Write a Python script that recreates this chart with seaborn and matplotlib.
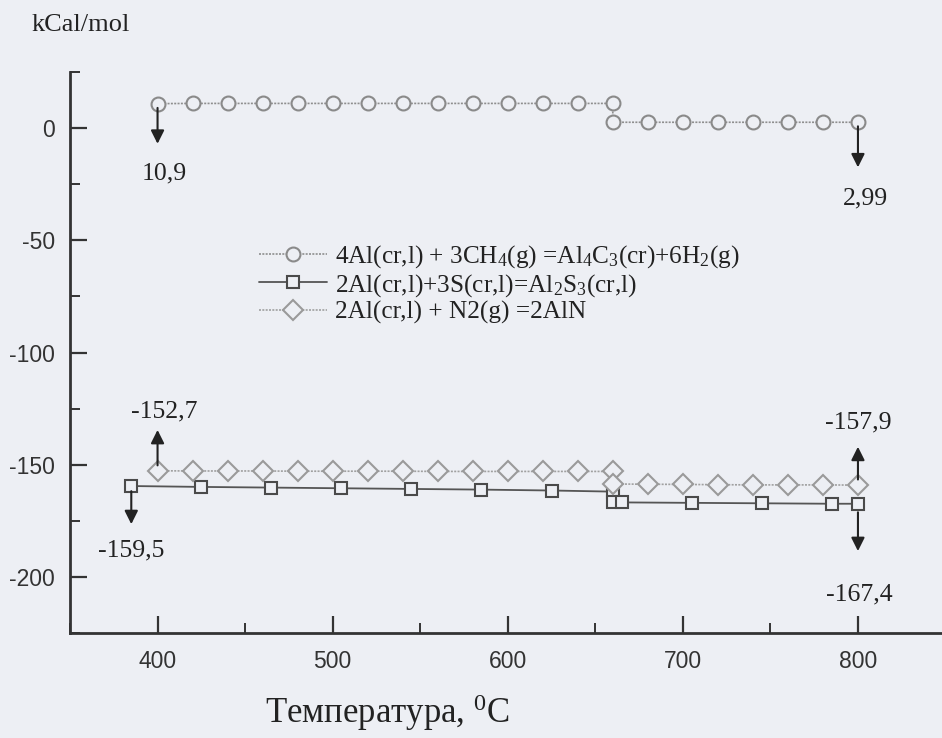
import matplotlib
matplotlib.use("Agg")
import matplotlib.pyplot as plt
import seaborn as sns
import pandas as pd
from matplotlib.ticker import MultipleLocator

# ---------------- data ----------------
temp_al4c3 = [400, 420, 440, 460, 480, 500, 520, 540, 560, 580, 600, 620, 640, 660,
              660, 680, 700, 720, 740, 760, 780, 800]
dg_al4c3 = [10.9, 11.0, 11.0, 11.0, 11.0, 11.0, 11.0, 11.0, 11.0, 11.0, 11.0, 11.0, 11.0, 11.0,
            2.6, 2.6, 2.6, 2.6, 2.6, 2.6, 2.6, 2.6]

temp_al2s3 = [385, 425, 465, 505, 545, 585, 625, 660, 660, 665, 705, 745, 785, 800]
dg_al2s3 = [-159.5, -159.9, -160.2, -160.5, -160.8, -161.1, -161.5, -162.0,
            -166.8, -166.8, -167.0, -167.2, -167.4, -167.4]

temp_aln = [400, 420, 440, 460, 480, 500, 520, 540, 560, 580, 600, 620, 640, 660,
            660, 680, 700, 720, 740, 760, 780, 800]
dg_aln = [-152.7, -152.8, -152.8, -152.8, -152.9, -152.9, -152.9, -152.9, -153.0, -153.0,
          -153.0, -153.0, -153.0, -153.0,
          -158.6, -158.7, -158.8, -158.9, -159.0, -159.0, -159.0, -159.1]

labels = ["4Al(cr,l) + 3CH$_4$(g) =Al$_4$C$_3$(cr)+6H$_2$(g)",
          "2Al(cr,l)+3S(cr,l)=Al$_2$S$_3$(cr,l)",
          "2Al(cr,l) + N2(g) =2AlN"]

# annotations: (text, x, y_from, y_to, text_x, text_y)
ann_text = ["10,9", "2,99", "-152,7", "-159,5", "-157,9", "-167,4"]
ann_x = [400, 800, 400, 385, 800, 800]
ann_from = [9.0, 0.8, -150.3, -161.8, -156.6, -171.2]
ann_to = [-7.0, -17.5, -134.5, -176.5, -142.0, -188.5]
ann_tx = [404, 804, 404, 385, 800, 801]
ann_ty = [-20.0, -31.5, -126.3, -188.0, -131.3, -208.0]

xticks = [400, 500, 600, 700, 800]
yticks = [0, -50, -100, -150, -200]

# ---------------- style ----------------
bg = "#edeff4"
sns.set_style("ticks")
plt.rcParams["font.family"] = ["Liberation Serif", "DejaVu Serif"]
plt.rcParams["mathtext.fontset"] = "custom"
plt.rcParams["mathtext.rm"] = "Liberation Serif"
plt.rcParams["mathtext.it"] = "Liberation Serif:italic"
plt.rcParams["mathtext.default"] = "rm"
plt.rcParams["axes.unicode_minus"] = False

fig = plt.figure(figsize=(9.42, 7.38), dpi=100, facecolor=bg)
ax = fig.add_axes([70 / 942, 105 / 738, 872 / 942, 561 / 738])
ax.set_facecolor(bg)

df1 = pd.DataFrame({"T": temp_al4c3, "G": dg_al4c3})
df2 = pd.DataFrame({"T": temp_al2s3, "G": dg_al2s3})
df3 = pd.DataFrame({"T": temp_aln, "G": dg_aln})

sns.lineplot(data=df1, x="T", y="G", ax=ax, sort=False, estimator=None,
             color="#8e8e8e", lw=1.2, linestyle=(0, (1.2, 0.8)),
             marker="o", markersize=10, markerfacecolor=bg,
             markeredgecolor="#8a8a8a", markeredgewidth=1.5, label=labels[0])
sns.lineplot(data=df2, x="T", y="G", ax=ax, sort=False, estimator=None,
             color="#555555", lw=1.3, linestyle="-",
             marker="s", markersize=9, markerfacecolor=bg,
             markeredgecolor="#4a4a4a", markeredgewidth=1.5, label=labels[1])
sns.lineplot(data=df3, x="T", y="G", ax=ax, sort=False, estimator=None,
             color="#a0a0a0", lw=1.2, linestyle=(0, (1.2, 0.8)),
             marker="D", markersize=10, markerfacecolor=bg,
             markeredgecolor="#9a9a9a", markeredgewidth=1.5, label=labels[2])

for t, x, y0, y1, tx, ty in zip(ann_text, ann_x, ann_from, ann_to, ann_tx, ann_ty):
    ax.annotate("", xy=(x, y1), xytext=(x, y0),
                arrowprops=dict(arrowstyle="-|>", color="#222222", lw=1.5,
                                mutation_scale=20, shrinkA=0, shrinkB=0))
    ax.text(tx, ty, t, ha="center", va="center", fontsize=18.5, color="#222222")

ax.set_xlim(350, 848)
ax.set_ylim(-225, 25)
ax.set_xticks(xticks)
ax.set_yticks(yticks)
ax.xaxis.set_minor_locator(MultipleLocator(50))
ax.yaxis.set_minor_locator(MultipleLocator(25))
ax.set_xlabel("")
ax.set_ylabel("")

for s in ["top", "right"]:
    ax.spines[s].set_visible(False)
for s in ["left", "bottom"]:
    ax.spines[s].set_linewidth(2.0)
    ax.spines[s].set_color("#333333")

ax.tick_params(axis="both", which="major", direction="in", length=12, width=1.6,
               color="#333333", labelsize=16.5, labelcolor="#333333")
ax.tick_params(axis="both", which="minor", direction="in", length=7, width=1.4,
               color="#333333")
ax.tick_params(axis="x", which="major", pad=12)
ax.tick_params(axis="y", which="major", pad=11)
for lab in ax.get_xticklabels() + ax.get_yticklabels():
    lab.set_fontfamily(["Liberation Sans", "DejaVu Sans"])

leg = ax.legend(loc="upper left", bbox_to_anchor=(259 / 942, 1 - 243 / 738),
                bbox_transform=fig.transFigure, frameon=False, fontsize=18.2,
                handlelength=2.7, handletextpad=0.3, labelspacing=0.08,
                borderpad=0, borderaxespad=0)
for txt in leg.get_texts():
    txt.set_color("#222222")

fig.text(32 / 942, 1 - 25 / 738, "kCal/mol", ha="left", va="center",
         fontsize=19, color="#222222")
fig.text(387 / 942, 1 - 713 / 738, "Температура, $^{0}$C", ha="center",
         va="center", fontsize=25, color="#222222")

fig.savefig("out.png", dpi=100, facecolor=bg)
